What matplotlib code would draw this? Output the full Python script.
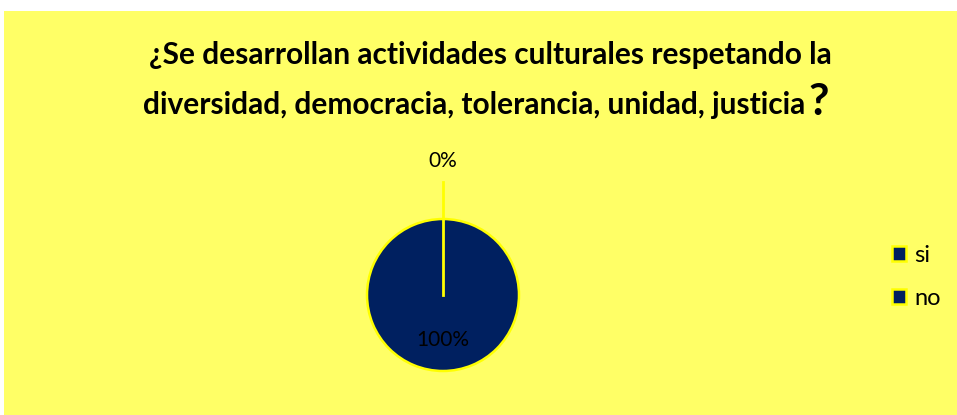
import numpy as np
import matplotlib.pyplot as plt
from matplotlib.patches import Rectangle

# datos de la encuesta
etiquetas = ['si', 'no']
valores = [0, 100]
porcentajes = ['0%', '100%']

titulo1 = '¿Se desarrollan actividades culturales respetando la'
titulo2 = 'diversidad, democracia, tolerancia, unidad, justicia'

amarillo = '#FFFF66'
azul = '#002060'
fuente = ['Lato', 'DejaVu Sans']

fig = plt.figure(figsize=(9.57, 4.15), dpi=100)

# fondo amarillo del grafico
fig.patches.append(Rectangle((4 / 957, 0), 1, 1 - 11 / 415, transform=fig.transFigure,
                             facecolor=amarillo, edgecolor='none', zorder=-5))

ax = fig.add_axes([0, 0, 1, 1])
ax.patch.set_visible(False)

cx, cy, r = 443, 415 - 295, 76
cunas, _ = ax.pie(valores, colors=[azul, azul], startangle=90, counterclock=False,
                  center=(cx, cy), radius=r,
                  wedgeprops=dict(edgecolor='#FFFF00', linewidth=1.8))
ax.set_xlim(0, 957)
ax.set_ylim(0, 415)
ax.set_aspect('auto')
ax.axis('off')

# etiquetas de porcentaje
dist = [1.76, 0.59]
for w, p, d in zip(cunas, porcentajes, dist):
    ang = np.deg2rad((w.theta1 + w.theta2) / 2)
    ax.text(cx + d * r * np.cos(ang), cy + d * r * np.sin(ang), p,
            ha='center', va='center', fontsize=15, family=fuente, color='black')

# borde de la porcion 0% y linea guia
ang = np.deg2rad((cunas[0].theta1 + cunas[0].theta2) / 2)
ax.plot([cx, cx + 1.49 * r * np.cos(ang)],
        [cy, cy + 1.49 * r * np.sin(ang)],
        color='#FFFF00', lw=2)

# titulo
fig.text(490 / 957, 1 - 55 / 415, titulo1, ha='center', va='center',
         fontsize=21.5, fontweight='bold', family=fuente)
t2 = fig.text(474 / 957, 1 - 105 / 415, titulo2, ha='center', va='center',
              fontsize=21.5, fontweight='bold', family=fuente)
fig.canvas.draw()
bb = t2.get_window_extent()
fig.text(bb.x1 / 957 + 3 / 957, 1 - 102 / 415, '?', ha='left', va='center',
         fontsize=32, fontweight='bold', family=fuente)

# leyenda
leg = ax.legend(cunas, etiquetas, loc='center left', bbox_to_anchor=(892 / 957, 1 - 277 / 415),
                bbox_transform=fig.transFigure, frameon=False, borderaxespad=0, borderpad=0,
                handlelength=0.6, handleheight=0.6, handletextpad=0.35, labelspacing=0.95,
                prop={'family': fuente, 'size': 17})

fig.savefig('out.png', dpi=100, facecolor='white')
